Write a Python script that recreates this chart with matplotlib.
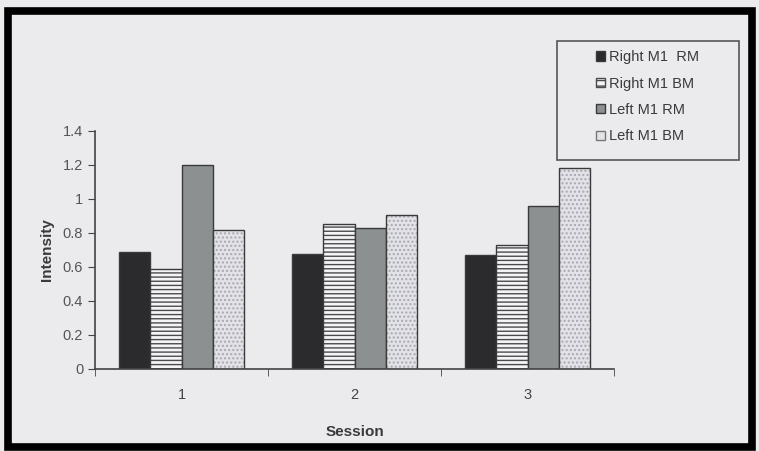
import numpy as np
import matplotlib
matplotlib.use('Agg')
import matplotlib.pyplot as plt
from matplotlib.patches import Rectangle, Patch

plt.rcParams['font.family'] = ['Liberation Sans', 'DejaVu Sans']
plt.rcParams['hatch.linewidth'] = 1.0

# Dados
sessoes = ['1', '2', '3']
series = ['Right M1  RM', 'Right M1 BM', 'Left M1 RM', 'Left M1 BM']
right_rm = [0.69, 0.675, 0.67]
right_bm = [0.59, 0.855, 0.73]
left_rm = [1.20, 0.83, 0.96]
left_bm = [0.82, 0.905, 1.18]
yticks = [0, 0.2, 0.4, 0.6, 0.8, 1, 1.2, 1.4]
ylabels = ['0', '0.2', '0.4', '0.6', '0.8', '1', '1.2', '1.4']

fundo = '#ebebee'
fig = plt.figure(figsize=(7.59, 4.51), dpi=100, facecolor=fundo)
ax = fig.add_axes([95 / 759, 1 - 369 / 451, 519 / 759, 238 / 451])
ax.set_facecolor('none')

x = np.arange(1, len(sessoes) + 1)
w = 0.18
offs = [-1.5 * w, -0.5 * w, 0.5 * w, 1.5 * w]
borda = '#3a3a3a'

ax.bar(x + offs[0], right_rm, w, color='#2b2b2d', edgecolor=borda, linewidth=1)
ax.bar(x + offs[1], right_bm, w, color='#f4f4f6', edgecolor='#4a4a4e',
       hatch='----', linewidth=0)
ax.bar(x + offs[1], right_bm, w, color='none', edgecolor=borda, linewidth=1)
ax.bar(x + offs[2], left_rm, w, color='#8c9090', edgecolor=borda, linewidth=1)
ax.bar(x + offs[3], left_bm, w, color='#e2e2e8', edgecolor='#a8a8b0',
       hatch='....', linewidth=0)
ax.bar(x + offs[3], left_bm, w, color='none', edgecolor=borda, linewidth=1)

ax.set_xlim(0.5, 3.5)
ax.set_ylim(0, 1.4)
ax.set_yticks(yticks)
ax.set_yticklabels(ylabels)
ax.set_xticks(x)
ax.set_xticklabels(sessoes)
ax.set_xticks([0.5, 1.5, 2.5, 3.5], minor=True)
ax.tick_params(axis='x', which='major', length=0, pad=14, labelsize=10.5, colors='#444444')
ax.tick_params(axis='x', which='minor', length=5, color='#444444')
ax.tick_params(axis='y', length=5, color='#444444', labelsize=10.5, labelcolor='#555555')
for s in ['top', 'right']:
    ax.spines[s].set_visible(False)
for s in ['left', 'bottom']:
    ax.spines[s].set_color('#444444')
    ax.spines[s].set_linewidth(1.2)

ax.set_ylabel('Intensity', fontsize=11, fontweight='bold', color='#3a3a3a', labelpad=6)
ax.set_xlabel('Session', fontsize=11, fontweight='bold', color='#3a3a3a', labelpad=16)

# Legenda
fig.patches.append(Rectangle((557 / 759, 1 - 160 / 451), 182 / 759, 119 / 451,
                             transform=fig.transFigure, facecolor='none',
                             edgecolor='#555555', linewidth=1.2))
alcas = [Patch(facecolor='#2b2b2d', edgecolor=borda),
         Patch(facecolor='#f4f4f6', edgecolor='#4a4a4e', hatch='---'),
         Patch(facecolor='#8c9090', edgecolor=borda),
         Patch(facecolor='#e2e2e8', edgecolor='#777777')]
leg = fig.legend(alcas, series, loc='upper left',
                 bbox_to_anchor=(583 / 759, 1 - 37 / 451), frameon=False,
                 fontsize=10.5, handlelength=0.6, handleheight=0.6,
                 handletextpad=0.3, labelspacing=0.85, borderpad=0.4)
for t in leg.get_texts():
    t.set_color('#3a3a3a')

# Moldura preta
fig.patches.append(Rectangle((8 / 759, 4 / 451), 744 / 759, 436 / 451,
                             transform=fig.transFigure, facecolor='none',
                             edgecolor='black', linewidth=5.5))

fig.savefig('out.png', dpi=100, facecolor=fundo)
